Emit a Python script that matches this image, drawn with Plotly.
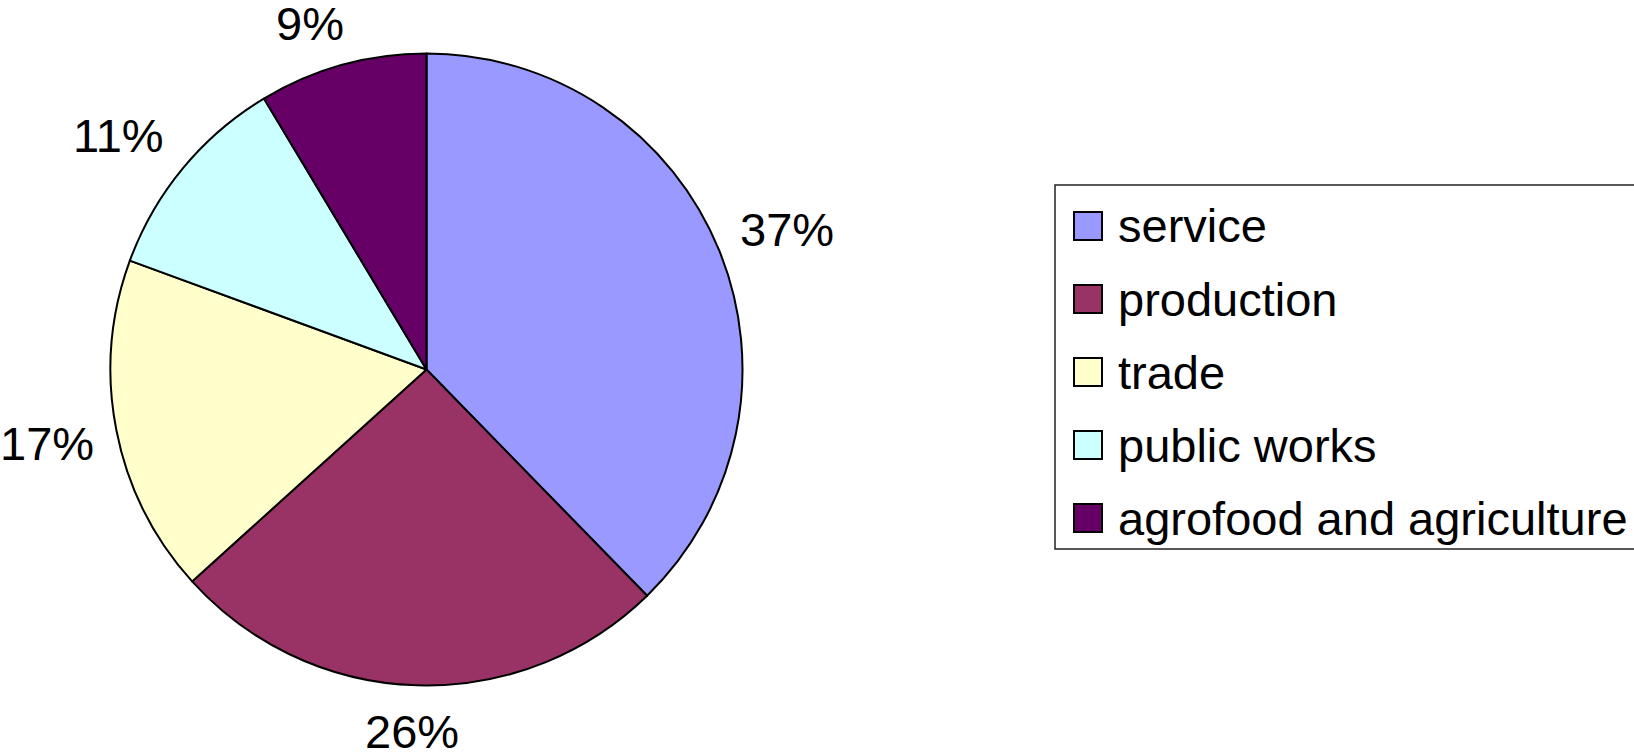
import math
import plotly.graph_objects as go

categories = ["service", "production", "trade", "public works", "agrofood and agriculture"]
values = [37.7, 25.6, 17.3, 10.8, 8.6]          # slice shares
pct_labels = ["37%", "26%", "17%", "11%", "9%"]  # labels as printed on the chart
colors = ["#9999FF", "#993366", "#FFFFCC", "#CCFFFF", "#660066"]

W, H = 1634, 753
FONT = "Arial, 'Liberation Sans', sans-serif"
FS = 47

# pie geometry (pixels)
cx, cy, r = 426.5, 369.5, 316
GAP = 27

fig = go.Figure()
fig.add_trace(go.Pie(
    labels=categories, values=values, sort=False, direction="clockwise", rotation=0,
    marker=dict(colors=colors, line=dict(color="black", width=2)),
    textinfo="none", hoverinfo="label", showlegend=False,
    domain=dict(x=[(cx - r) / W, (cx + r) / W], y=[(H - cy - r) / H, (H - cy + r) / H]),
))

annotations = []
shapes = []


def clamp(v):
    return max(-1.0, min(1.0, v))


# percentage labels outside the slices (box pushed away from an anchor just outside the rim)
total = sum(values)
cum = 0
for v, txt in zip(values, pct_labels):
    mid = (cum + v / 2) / total * 2 * math.pi
    cum += v
    ux, uy = math.sin(mid), -math.cos(mid)
    w = FS * (0.556 * (len(txt) - 1) + 0.889)
    h = 0.74 * FS
    ax, ay = cx + (r + GAP) * ux, cy + (r + GAP) * uy
    px = ax + 0.92 * clamp(3 * ux) * w / 2
    py = ay + clamp(2 * uy) * h / 2
    annotations.append(dict(
        x=px / W, y=1 - (py + 2) / H, xref="paper", yref="paper", text=txt, showarrow=False,
        xanchor="center", yanchor="middle", font=dict(family=FONT, size=FS, color="black"),
    ))

# legend box
lx0, ly0, ly1 = 1055, 185, 549
shapes.append(dict(type="rect", xref="paper", yref="paper",
                   x0=lx0 / W, x1=1700 / W, y0=1 - ly1 / H, y1=1 - ly0 / H,
                   line=dict(color="#222222", width=1.5), fillcolor="white", layer="below"))
row0, step = 226, 73
for i, (cat, col) in enumerate(zip(categories, colors)):
    yc = row0 + i * step
    shapes.append(dict(type="rect", xref="paper", yref="paper",
                       x0=1074 / W, x1=1102 / W, y0=1 - (yc + 14) / H, y1=1 - (yc - 14) / H,
                       line=dict(color="black", width=2), fillcolor=col))
    annotations.append(dict(
        x=1116 / W, y=1 - yc / H, xref="paper", yref="paper", text=cat, showarrow=False,
        xanchor="left", yanchor="middle", font=dict(family=FONT, size=FS, color="black"),
    ))

fig.update_layout(
    width=W, height=H, margin=dict(l=0, r=0, t=0, b=0),
    paper_bgcolor="white", plot_bgcolor="white",
    annotations=annotations, shapes=shapes, showlegend=False,
)
fig.write_html("out.html", config={"displayModeBar": False},
               post_script="document.body.style.margin='0';document.body.style.overflow='hidden';")
